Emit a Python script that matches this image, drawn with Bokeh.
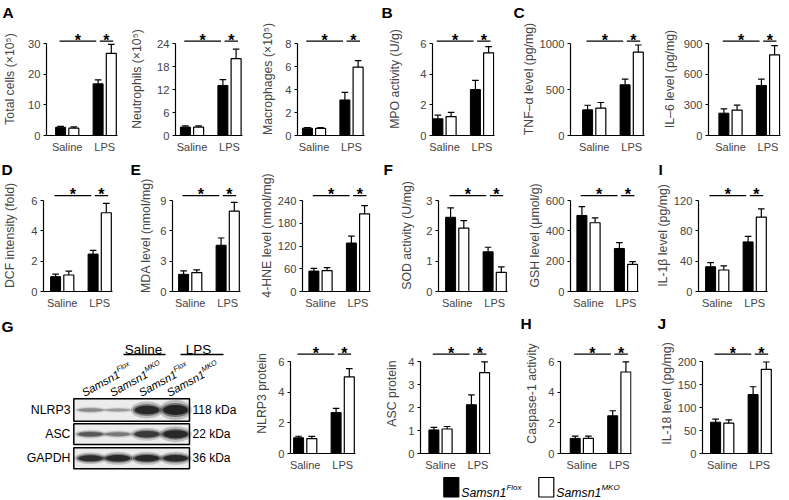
import math
from bokeh.plotting import figure
from bokeh.layouts import row, column
from bokeh.models import FixedTicker, Range1d, Title
from bokeh.embed import file_html
from bokeh.resources import INLINE
from bokeh.core.properties import value

FONT = "Liberation Sans"
PAGE_W, PAGE_H = 789, 500
REF_W, REF_H = 789, 500
FX = PAGE_W / REF_W
FY = PAGE_H / REF_H
FS = (FX + FY) / 2


def X(v):
    return v * FX


def Y(v):
    return v * FY


def px(v):
    return f"{v * FS:.1f}px"


# ------------------------------------------------------------------ data
categories = ["Saline", "LPS"]
genotypes = ["Samsn1", "Samsn1"]
genotype_sup = ["Flox", "MKO"]

total_flox = [2.7, 16.9]
total_flox_err = [0.3, 1.3]
total_mko = [2.4, 26.9]
total_mko_err = [0.4, 2.9]

neut_flox = [2.2, 13.1]
neut_flox_err = [0.3, 1.5]
neut_mko = [2.2, 20.1]
neut_mko_err = [0.3, 2.5]

mac_flox = [0.64, 3.1]
mac_flox_err = [0.06, 0.66]
mac_mko = [0.62, 5.96]
mac_mko_err = [0.06, 0.58]

mpo_flox = [1.09, 3.01]
mpo_flox_err = [0.24, 0.6]
mpo_mko = [1.24, 5.41]
mpo_mko_err = [0.27, 0.4]

tnf_flox = [280, 553]
tnf_flox_err = [50, 62]
tnf_mko = [298, 909]
tnf_mko_err = [62, 78]

il6_flox = [219, 491]
il6_flox_err = [43, 62]
il6_mko = [250, 792]
il6_mko_err = [48, 90]

dcf_flox = [0.98, 2.47]
dcf_flox_err = [0.17, 0.25]
dcf_mko = [1.09, 5.2]
dcf_mko_err = [0.25, 0.62]

mda_flox = [1.7, 4.58]
mda_flox_err = [0.35, 0.72]
mda_mko = [1.87, 7.95]
mda_mko_err = [0.27, 0.87]

hne_flox = [54, 128]
hne_flox_err = [7, 18]
hne_mko = [55, 205]
hne_mko_err = [8, 22]

sod_flox = [2.45, 1.31]
sod_flox_err = [0.31, 0.15]
sod_mko = [2.09, 0.63]
sod_mko_err = [0.25, 0.18]

gsh_flox = [502, 284]
gsh_flox_err = [58, 38]
gsh_mko = [454, 179]
gsh_mko_err = [32, 18]

il1b_flox = [32.7, 65.5]
il1b_flox_err = [5.5, 7.3]
il1b_mko = [28.4, 98.2]
il1b_mko_err = [5.5, 10.8]

nlrp3_flox = [1.03, 2.68]
nlrp3_flox_err = [0.1, 0.27]
nlrp3_mko = [0.98, 5.02]
nlrp3_mko_err = [0.14, 0.54]

asc_flox = [1.03, 2.13]
asc_flox_err = [0.11, 0.43]
asc_mko = [1.07, 3.53]
asc_mko_err = [0.11, 0.47]

casp_flox = [0.99, 2.47]
casp_flox_err = [0.15, 0.33]
casp_mko = [0.99, 5.34]
casp_mko_err = [0.15, 0.66]

il18_flox = [68.4, 128.7]
il18_flox_err = [6.6, 17]
il18_mko = [66.2, 183.8]
il18_mko_err = [7.3, 16]

blot_proteins = ["NLRP3", "ASC", "GAPDH"]
blot_kda = ["118 kDa", "22 kDa", "36 kDa"]
blot_treatments = ["Saline", "LPS"]
band_intensity = [
    [0.35, 0.28, 0.95, 1.0],
    [0.6, 0.42, 0.8, 0.95],
    [0.9, 0.95, 0.95, 0.95],
]
band_thickness = [
    [3.5, 3.0, 8.5, 10.0],
    [4.5, 4.0, 6.5, 8.0],
    [6.0, 6.5, 6.5, 6.5],
]

# ------------------------------------------------------------------ geometry (reference pixels)
ROWS = {
    1: dict(top=0, bottom=157, zero=135.0, ytop=43.3, ftop=22, sig=2.6),
    2: dict(top=157, bottom=311, zero=291.7, ytop=200.0, ftop=179, sig=5.0),
    3: dict(top=311, bottom=474, zero=453.3, ytop=361.7, ftop=333, sig=7.7),
}
LEGEND_BOTTOM = 500
UNIT = 37.5          # reference px between the two category centres
AXIS_EXT = 50.0      # x axis line end beyond the Saline centre
BAR_OFF = 6.6 / UNIT
BAR_W = 10.0 / UNIT
CAP = 3.3 / UNIT

AX_LABEL_FS = 12.3
TICK_FS = 11.2
CAT_FS = 11.0
LETTER_FS = 15.5


def no_align(p):
    if "frame_align" in p.properties():
        p.frame_align = False
    return p


def style_fig(p):
    p.xgrid.visible = False
    p.ygrid.visible = False
    p.outline_line_color = None
    p.background_fill_color = "white"
    p.border_fill_color = "white"
    no_align(p)


def canvas_fig(x0, x1, y0, y1):
    """A figure without axes whose data coordinates are reference pixels (y downwards)."""
    w = round(X(x1)) - round(X(x0))
    h = round(Y(y1)) - round(Y(y0))
    p = figure(width=w, height=h, title=None,
               x_range=Range1d(x0, x0 + w / FX),
               y_range=Range1d(y0 + h / FY, y0),
               x_axis_location=None, y_axis_location=None,
               min_border=0, min_border_left=0, min_border_right=0,
               min_border_top=0, min_border_bottom=0,
               output_backend="svg", toolbar_location=None)
    p.grid.visible = False
    p.outline_line_color = None
    p.background_fill_color = "white"
    p.border_fill_color = "white"
    no_align(p)
    return p


def bar_panel(rg, L, R, a, cs, lc, ymax, ystep, ylabel,
              flox, flox_err, mko, mko_err, letter=None, letter_x=0):
    Lp, Rp = round(X(L)), round(X(R))
    Tp, Bp = round(Y(rg["top"])), round(Y(rg["bottom"]))
    width, height = Rp - Lp, Bp - Tp
    fl = round(X(a)) - Lp
    fr = Rp - round(X(cs + AXIS_EXT))
    ft = round(Y(rg["ftop"])) - Tp
    fb = Bp - round(Y(rg["zero"]))
    fw = width - fl - fr
    fh = height - ft - fb
    unit_px = UNIT * FX
    x0 = -(X(cs) - round(X(a))) / unit_px
    ppd = (Y(rg["zero"]) - Y(rg["ytop"])) / ymax
    title = None
    if letter:
        title = Title(text=letter, align="left", vertical_align="top",
                      offset=round(X(letter_x)) - round(X(a)), standoff=0,
                      text_font=FONT, text_font_size=px(LETTER_FS),
                      text_font_style="bold", text_color="black")
    p = figure(width=width, height=height, title=title,
               x_range=Range1d(x0, x0 + fw / unit_px),
               y_range=Range1d(0, fh / ppd),
               min_border_left=fl, min_border_right=fr,
               min_border_top=ft, min_border_bottom=fb,
               output_backend="svg", toolbar_location=None)
    style_fig(p)

    xs = list(range(len(categories)))
    xf = [x - BAR_OFF for x in xs]
    xm = [x + BAR_OFF for x in xs]

    # bars
    p.vbar(x=xf, top=flox, width=BAR_W, bottom=0, fill_color="black",
           line_color="black", line_width=1)
    p.vbar(x=xm, top=mko, width=BAR_W, bottom=0, fill_color="white",
           line_color="black", line_width=1.2)
    # error bars (upper only)
    for xx, vv, ee in ((xf, flox, flox_err), (xm, mko, mko_err)):
        up = [v + e for v, e in zip(vv, ee)]
        p.segment(x0=xx, y0=vv, x1=xx, y1=up, line_color="black", line_width=1.2)
        p.segment(x0=[x - CAP for x in xx], y0=up, x1=[x + CAP for x in xx], y1=up,
                  line_color="black", line_width=1.2)

    # significance marks
    ly = ymax + rg["sig"] / ppd
    s_x0 = [xf[0] - 0.03, xf[1] + 0.045]
    s_x1 = [xf[1] - 0.05, xm[1] + 0.05]
    p.segment(x0=s_x0, y0=[ly, ly], x1=s_x1, y1=[ly, ly], line_color="black", line_width=1.3)
    p.text(x=[(u + v) / 2 for u, v in zip(s_x0, s_x1)], y=[ly + 0.8 / ppd] * 2,
           text=["*", "*"], text_align="center", text_baseline="alphabetic",
           text_font=value(FONT), text_font_size=value(px(16)), text_font_style="bold",
           text_color="black")

    # y axis
    ticks = list(range(0, int(round(ymax / ystep)) + 1))
    yt = [t * ystep for t in ticks]
    yax = p.yaxis[0]
    yax.ticker = FixedTicker(ticks=yt)
    yax.bounds = (0, ymax)
    yax.axis_label = ylabel
    yax.axis_label_text_font = FONT
    yax.axis_label_text_font_style = "normal"
    yax.axis_label_text_font_size = px(AX_LABEL_FS)
    yax.major_label_text_font = FONT
    yax.major_label_text_font_size = px(TICK_FS)
    yax.major_tick_in = 0
    yax.major_tick_out = 3
    yax.minor_tick_in = 0
    yax.minor_tick_out = 0
    yax.major_label_standoff = 3
    yax.axis_line_width = 1.2
    yax.major_tick_line_width = 1.2
    tickw = max(len(str(v)) for v in yt) * 0.556 * TICK_FS * FS
    stand = (a - lc) * FX - 3 - 3 - tickw - 0.57 * AX_LABEL_FS * FS
    yax.axis_label_standoff = int(max(1, round(stand)))

    # x axis
    xax = p.xaxis[0]
    xax.ticker = FixedTicker(ticks=xs)
    xax.major_label_overrides = {x: c for x, c in zip(xs, categories)}
    xax.major_label_text_font = FONT
    xax.major_label_text_font_size = px(CAT_FS)
    xax.major_tick_in = 0
    xax.major_tick_out = 0
    xax.minor_tick_in = 0
    xax.minor_tick_out = 0
    xax.major_label_standoff = 5
    xax.axis_line_width = 1.2
    return p


# ------------------------------------------------------------------ row 1
r1 = ROWS[1]
row1 = [
    bar_panel(r1, 0, 125, 46, 66.7, 13, 30, 10, "Total cells (×10⁵)",
              total_flox, total_flox_err, total_mko, total_mko_err, "A", 2),
    bar_panel(r1, 125, 250, 175, 191.5, 140, 24, 6, "Neutrophils (×10⁵)",
              neut_flox, neut_flox_err, neut_mko, neut_mko_err),
    bar_panel(r1, 250, 377, 296.7, 313.5, 270, 8, 2, "Macrophages (×10⁵)",
              mac_flox, mac_flox_err, mac_mko, mac_mko_err),
    bar_panel(r1, 377, 505, 432, 444, 398, 6, 2, "MPO activity (U/g)",
              mpo_flox, mpo_flox_err, mpo_mko, mpo_mko_err, "B", 381),
    bar_panel(r1, 505, 650, 570, 593.7, 532, 1000, 500, "TNF–α level (pg/mg)",
              tnf_flox, tnf_flox_err, tnf_mko, tnf_mko_err, "C", 513),
    bar_panel(r1, 650, 789, 708.3, 730, 673, 900, 300, "IL–6 level (pg/mg)",
              il6_flox, il6_flox_err, il6_mko, il6_mko_err),
]

# ------------------------------------------------------------------ row 2
r2 = ROWS[2]
row2 = [
    bar_panel(r2, 0, 125, 43.3, 61.7, 13, 6, 2, "DCF intensity (fold)",
              dcf_flox, dcf_flox_err, dcf_mko, dcf_mko_err, "D", 1),
    bar_panel(r2, 125, 255, 171.7, 189.7, 148, 9, 3, "MDA level (nmol/mg)",
              mda_flox, mda_flox_err, mda_mko, mda_mko_err, "E", 130),
    bar_panel(r2, 255, 378, 301.7, 320, 276, 240, 60, "4-HNE level (nmol/mg)",
              hne_flox, hne_flox_err, hne_mko, hne_mko_err),
    bar_panel(r2, 378, 510, 438.3, 456.7, 410, 3, 1, "SOD activity (U/mg)",
              sod_flox, sod_flox_err, sod_mko, sod_mko_err, "F", 383),
    bar_panel(r2, 510, 645, 570, 588, 543, 600, 200, "GSH level (μmol/g)",
              gsh_flox, gsh_flox_err, gsh_mko, gsh_mko_err),
    bar_panel(r2, 645, 789, 698.3, 716.7, 673, 120, 40, "IL-1β level (pg/mg)",
              il1b_flox, il1b_flox_err, il1b_mko, il1b_mko_err, "I", 658),
]

# ------------------------------------------------------------------ row 3: western blot
r3 = ROWS[3]
pb = canvas_fig(0, 248, r3["top"], r3["bottom"])

pb.text(x=[1], y=[326], text=["G"], text_font=value(FONT),
        text_font_size=value(px(LETTER_FS)), text_font_style="bold",
        text_align="left", text_baseline="alphabetic", text_color="black")

treat_x = [143, 198]
treat_line = [(123, 165), (180, 223)]
pb.text(x=treat_x, y=[349, 349], text=blot_treatments, text_font=value(FONT),
        text_font_size=value(px(13.5)), text_align="center", text_baseline="alphabetic")
pb.segment(x0=[s for s, e in treat_line], x1=[e for s, e in treat_line],
           y0=[354, 354], y1=[354, 354], line_color="black", line_width=1.5)

lane_x = [90, 117.5, 146.5, 175]
lane_anchor_x = [82, 110, 139, 167]
theta = math.radians(29)
fs_lane = 11.3
fs_sup = 7.3
w_main = 3.668 * fs_lane
rise = 0.36 * fs_lane
base_y = 393
pb.text(x=lane_anchor_x, y=[base_y] * 4, text=genotypes * 2, angle=theta,
        text_font=value(FONT), text_font_size=value(px(fs_lane)), text_font_style="italic",
        text_align="left", text_baseline="alphabetic")
sup_x = [ax + w_main * math.cos(theta) - rise * math.sin(theta) for ax in lane_anchor_x]
sup_y = [base_y - w_main * math.sin(theta) - rise * math.cos(theta)] * 4
pb.text(x=sup_x, y=sup_y, text=genotype_sup * 2, angle=theta,
        text_font=value(FONT), text_font_size=value(px(fs_sup)), text_font_style="italic",
        text_align="left", text_baseline="alphabetic")

box_top = [398.3, 423.3, 447.3]
box_bot = [420.7, 444.0, 468.3]
box_l, box_r = 73.3, 189
pb.quad(left=[box_l] * 3, right=[box_r] * 3, top=box_top, bottom=box_bot,
        fill_color="#ececec", line_color=None)
for i, prot in enumerate(blot_proteins):
    cy = (box_top[i] + box_bot[i]) / 2
    for scale_w, scale_h, scale_a in ((1.25, 2.0, 0.22), (1.1, 1.4, 0.45), (0.95, 1.0, 0.85)):
        pb.ellipse(x=lane_x, y=[cy] * 4, width=[26 * scale_w] * 4,
                   height=[t * scale_h for t in band_thickness[i]],
                   fill_color="#151515", fill_alpha=[a * scale_a for a in band_intensity[i]],
                   line_color=None)
pb.quad(left=[box_l] * 3, right=[box_r] * 3, top=box_top, bottom=box_bot,
        fill_color=None, line_color="black", line_width=1.5)
centers = [(t + b) / 2 for t, b in zip(box_top, box_bot)]
pb.text(x=[70] * 3, y=centers, text=blot_proteins, text_font=value(FONT),
        text_font_size=value(px(12.3)), text_align="right", text_baseline="middle")
pb.text(x=[192] * 3, y=centers, text=blot_kda, text_font=value(FONT),
        text_font_size=value(px(12)), text_align="left", text_baseline="middle")

row3 = [
    pb,
    bar_panel(r3, 248, 380, 290, 304.7, 265, 6, 2, "NLRP3 protein",
              nlrp3_flox, nlrp3_flox_err, nlrp3_mko, nlrp3_mko_err),
    bar_panel(r3, 380, 512, 420, 440, 395, 4, 1, "ASC protein",
              asc_flox, asc_flox_err, asc_mko, asc_mko_err),
    bar_panel(r3, 512, 650, 560, 581.3, 535, 6, 2, "Caspase-1 activity",
              casp_flox, casp_flox_err, casp_mko, casp_mko_err, "H", 520),
    bar_panel(r3, 650, 789, 701.7, 721.7, 673, 200, 50, "IL-18 level (pg/mg)",
              il18_flox, il18_flox_err, il18_mko, il18_mko_err, "J", 657),
]

# ------------------------------------------------------------------ legend
pl = canvas_fig(0, REF_W, r3["bottom"], LEGEND_BOTTOM)
leg_box_l = [443.3, 538.3]
pl.quad(left=leg_box_l, right=[b + 15 for b in leg_box_l], top=[477] * 2, bottom=[496.5] * 2,
        fill_color=["black", "white"], line_color="black", line_width=1.2)
fs_leg = 12.3
leg_tx = [b + 17.5 for b in leg_box_l]
pl.text(x=leg_tx, y=[492] * 2, text=genotypes, text_font=value(FONT),
        text_font_size=value(px(fs_leg)), text_font_style="italic",
        text_align="left", text_baseline="alphabetic")
pl.text(x=[t + 3.668 * fs_leg for t in leg_tx], y=[487] * 2, text=genotype_sup,
        text_font=value(FONT), text_font_size=value(px(8)), text_font_style="italic",
        text_align="left", text_baseline="alphabetic")

layout = column(
    row(*row1, spacing=0),
    row(*row2, spacing=0),
    row(*row3, spacing=0),
    pl,
    spacing=0,
)

open("out.html", "w").write(file_html(layout, INLINE))
